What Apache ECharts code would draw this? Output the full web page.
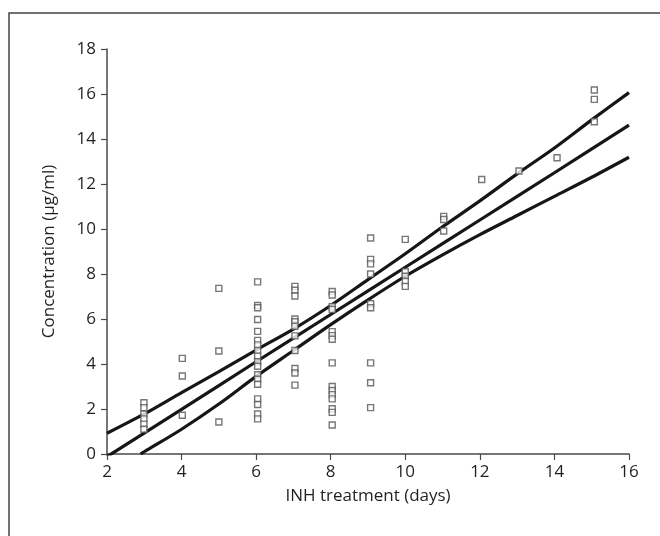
<!DOCTYPE html>
<html>
<head>
<meta charset="utf-8">
<title>INH concentration</title>
<script src="https://cdn.jsdelivr.net/npm/echarts@6/dist/echarts.min.js"></script>
<style>
  html, body { margin: 0; padding: 0; background: #fff; }
  #chart { width: 660px; height: 536px; }
</style>
</head>
<body>
<div id="chart"></div>
<script>
// days on treatment (columns of points)
const days = [2.99, 4.02, 5.0, 6.04, 7.04, 8.04, 9.07, 10.0, 11.03, 12.05, 13.05, 14.07, 15.07];
// measured concentrations per day, µg/ml
const concentrations = [
  [2.28, 2.06, 1.78, 1.56, 1.33, 1.10],
  [4.25, 3.47, 1.72],
  [7.36, 4.58, 1.42],
  [7.65, 6.6, 6.5, 5.98, 5.45, 5.05, 4.85, 4.6, 4.35, 4.1, 3.9, 3.52, 3.32, 3.1, 2.45, 2.2, 1.78, 1.56],
  [7.45, 7.28, 7.02, 6.0, 5.88, 5.68, 5.25, 4.6, 3.8, 3.6, 3.06],
  [7.22, 7.07, 6.55, 6.42, 5.44, 5.26, 5.1, 4.05, 3.0, 2.82, 2.64, 2.45, 2.01, 1.85, 1.29],
  [9.6, 8.65, 8.45, 8.0, 6.68, 6.5, 4.05, 3.17, 2.06],
  [9.54, 8.1, 7.9, 7.68, 7.45],
  [10.56, 10.42, 9.91],
  [12.2],
  [12.58],
  [13.17],
  [16.18, 15.76, 14.77]
];

// regression line and its upper / lower bands
const fitX = [2, 4, 6, 8, 10, 12, 14, 16];
const fitY = [-0.12, 1.98, 4.1, 6.2, 8.3, 10.4, 12.5, 14.62];
const upperX = [2, 3, 4, 5, 6, 7, 8, 9, 10, 11, 12, 13, 14, 15, 16];
const upperY = [0.92, 1.78, 2.73, 3.66, 4.62, 5.55, 6.6, 7.75, 8.9, 10.1, 11.25, 12.45, 13.6, 14.85, 16.06];
const lowerX = [2.9, 3, 4, 5, 6, 7, 8, 9, 10, 11, 12, 13, 14, 15, 16];
const lowerY = [0, 0.1, 1.1, 2.22, 3.45, 4.6, 5.75, 6.85, 7.9, 8.85, 9.75, 10.6, 11.45, 12.3, 13.19];

const xTicks = [2, 4, 6, 8, 10, 12, 14, 16];
const yTicks = [0, 2, 4, 6, 8, 10, 12, 14, 16, 18];

const font = '"Open Sans", "Noto Sans", sans-serif';

function pairs(xs, ys) {
  return xs.map((x, i) => [x, ys[i]]);
}

let points = [];
days.forEach((d, i) => {
  concentrations[i].forEach(c => points.push([d, c]));
});

const lineStyle = { color: '#161616', width: 3.2 };
function curve(data) {
  return {
    type: 'line',
    data: data,
    smooth: 0.3,
    showSymbol: false,
    symbol: 'none',
    lineStyle: lineStyle,
    silent: true,
    z: 3
  };
}

const chart = echarts.init(document.getElementById('chart'));
const axisLine = { lineStyle: { color: '#4a4a4a', width: 1.5 } };
const labelStyle = { color: '#231f20', fontSize: 17, fontFamily: font };

chart.setOption({
  animation: false,
  backgroundColor: '#fff',
  graphic: [{
    type: 'rect',
    shape: { x: 9, y: 13, width: 700, height: 600 },
    style: { fill: 'none', stroke: '#444', lineWidth: 1.5 },
    silent: true
  }],
  grid: { left: 107, right: 31, top: 49, bottom: 82 },
  xAxis: {
    type: 'value',
    min: xTicks[0],
    max: xTicks[xTicks.length - 1],
    interval: 2,
    name: 'INH treatment (days)',
    nameLocation: 'middle',
    nameGap: 34,
    nameTextStyle: labelStyle,
    axisLine: axisLine,
    axisTick: { show: true, inside: false, length: 6, lineStyle: { color: '#4a4a4a', width: 1.2 } },
    axisLabel: Object.assign({ margin: 10 }, labelStyle),
    splitLine: { show: false }
  },
  yAxis: {
    type: 'value',
    min: yTicks[0],
    max: yTicks[yTicks.length - 1],
    interval: 2,
    name: 'Concentration (µg/ml)',
    nameLocation: 'middle',
    nameGap: 49,
    nameTextStyle: labelStyle,
    axisLine: Object.assign({ show: true }, axisLine),
    axisTick: { show: true, inside: false, length: 6, lineStyle: { color: '#4a4a4a', width: 1.2 } },
    axisLabel: Object.assign({ margin: 11 }, labelStyle),
    splitLine: { show: false }
  },
  series: [
    {
      type: 'scatter',
      data: points,
      symbol: 'rect',
      symbolSize: 6,
      itemStyle: { color: '#fff', borderColor: '#555', borderWidth: 1.4 },
      z: 4
    },
    curve(pairs(fitX, fitY)),
    curve(pairs(upperX, upperY)),
    curve(pairs(lowerX, lowerY))
  ]
});

window.addEventListener('resize', () => {
  chart.resize();
});
</script>
</body>
</html>
